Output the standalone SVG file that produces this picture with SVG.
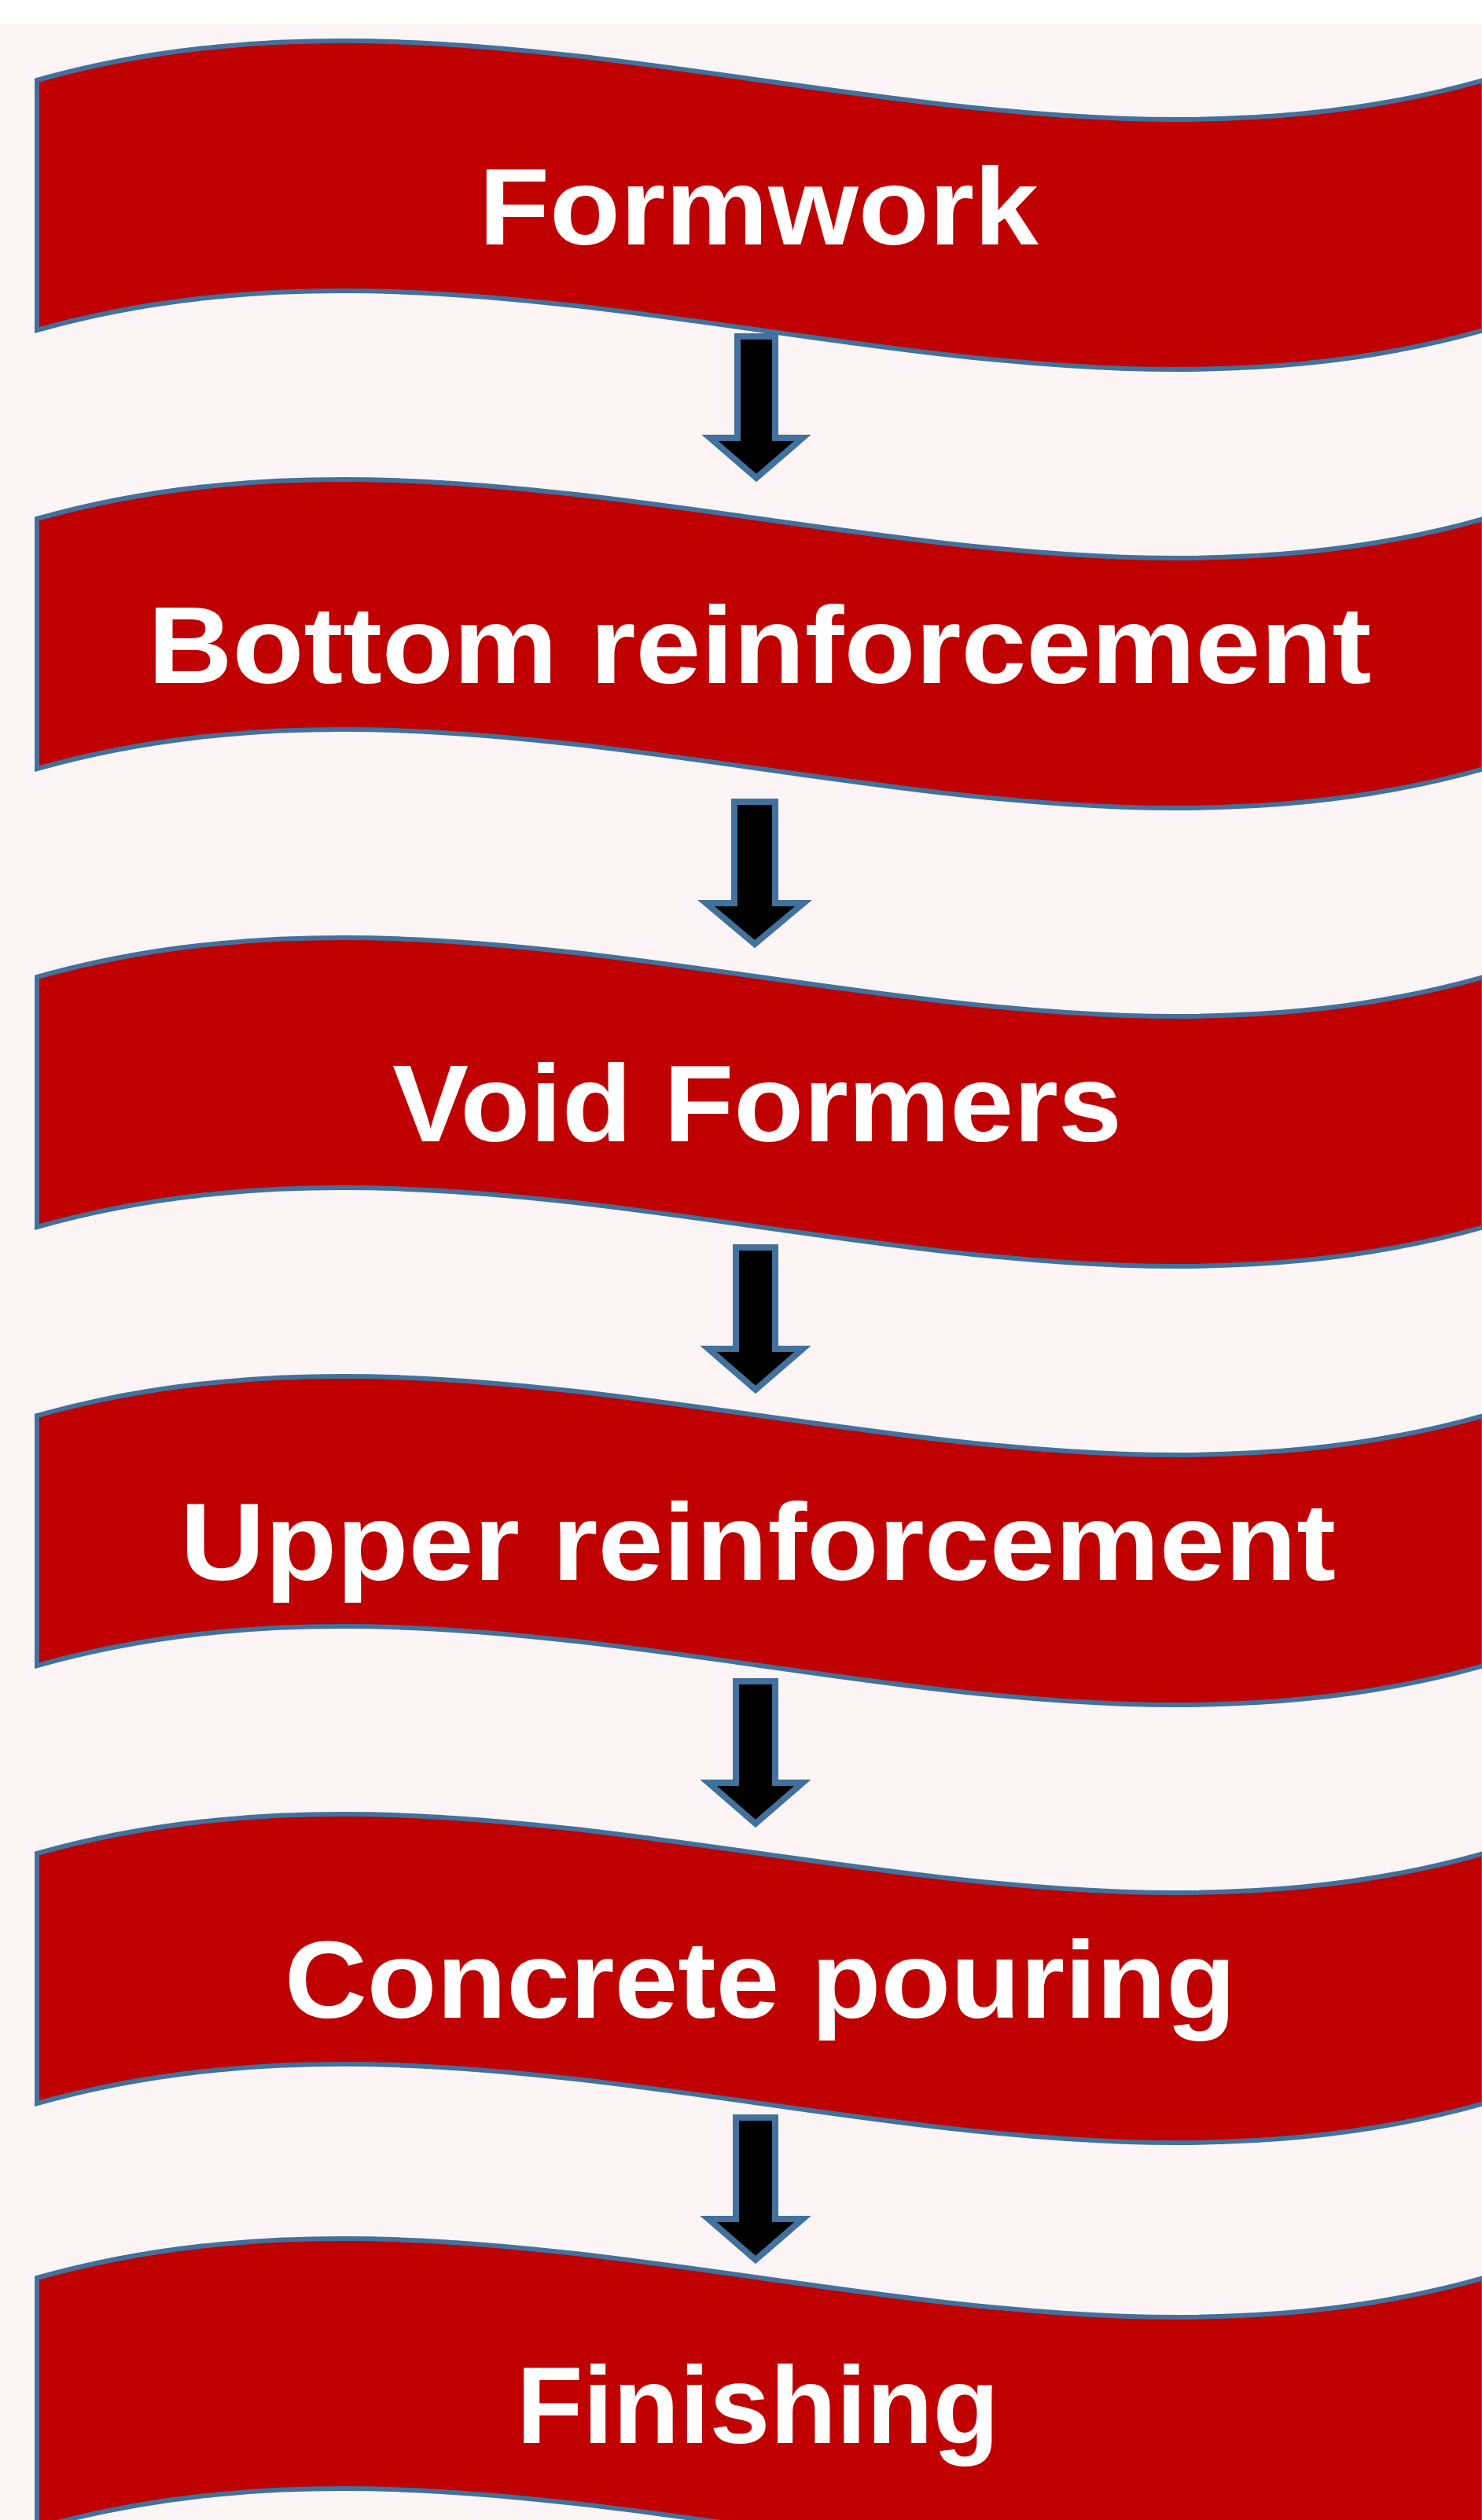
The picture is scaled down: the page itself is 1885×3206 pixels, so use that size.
<svg xmlns="http://www.w3.org/2000/svg" width="1885" height="3206" viewBox="0 0 1885 3206">
  <style>
    .banner { fill: #C00000; stroke: #41719C; stroke-width: 6; stroke-linejoin: miter; }
    .label { fill: #FFFFFF; font-family: "Liberation Sans", Arial, sans-serif; font-weight: bold; font-size: 140px; text-anchor: middle; }
    .arrow { fill: #000000; stroke: #41719C; stroke-width: 8; stroke-linejoin: miter; }
  </style>
  <rect x="0" y="0" width="1885" height="3206" fill="#FFFFFF"/>
  <rect x="0" y="30" width="1885" height="3176" fill="#FDF5F5"/>

  <g id="node-formwork">
    <path class="banner" d="M47,102 C660,-71 1274,275 1887,102 L1887,420 C1274,593 660,247 47,420 Z"/>
    <text class="label" x="965" y="311" textLength="712" lengthAdjust="spacingAndGlyphs">Formwork</text>
  </g>
  <g id="node-bottom-reinforcement">
    <path class="banner" d="M47,660 C660,487 1274,833 1887,660 L1887,978 C1274,1151 660,805 47,978 Z"/>
    <text class="label" x="966" y="869" textLength="1556" lengthAdjust="spacingAndGlyphs">Bottom reinforcement</text>
  </g>
  <g id="node-void-formers">
    <path class="banner" d="M47,1243 C660,1070 1274,1416 1887,1243 L1887,1561 C1274,1734 660,1388 47,1561 Z"/>
    <text class="label" x="963" y="1452" textLength="928" lengthAdjust="spacingAndGlyphs">Void Formers</text>
  </g>
  <g id="node-upper-reinforcement">
    <path class="banner" d="M47,1801 C660,1628 1274,1974 1887,1801 L1887,2119 C1274,2292 660,1946 47,2119 Z"/>
    <text class="label" x="964" y="2010" textLength="1470" lengthAdjust="spacingAndGlyphs">Upper reinforcement</text>
  </g>
  <g id="node-concrete-pouring">
    <path class="banner" d="M47,2358 C660,2185 1274,2531 1887,2358 L1887,2676 C1274,2849 660,2503 47,2676 Z"/>
    <text class="label" x="967" y="2567" textLength="1210" lengthAdjust="spacingAndGlyphs">Concrete pouring</text>
  </g>
  <g id="node-finishing">
    <path class="banner" d="M47,2898 C660,2725 1274,3071 1887,2898 L1887,3216 C1274,3389 660,3043 47,3216 Z"/>
    <text class="label" x="964" y="3108" textLength="614" lengthAdjust="spacingAndGlyphs">Finishing</text>
  </g>

  <g id="connectors">
    <path class="arrow" d="M938,428 L986,428 L986,557 L1021,557 L962,608 L903,557 L938,557 Z"/>
    <path class="arrow" d="M934,1020 L986,1020 L986,1149 L1022,1149 L960,1201 L898,1149 L934,1149 Z"/>
    <path class="arrow" d="M936,1587 L986,1587 L986,1716 L1021,1716 L961,1768 L901,1716 L936,1716 Z"/>
    <path class="arrow" d="M936,2139 L986,2139 L986,2268 L1021,2268 L961,2320 L901,2268 L936,2268 Z"/>
    <path class="arrow" d="M936,2694 L986,2694 L986,2823 L1021,2823 L961,2875 L901,2823 L936,2823 Z"/>
  </g>
</svg>
